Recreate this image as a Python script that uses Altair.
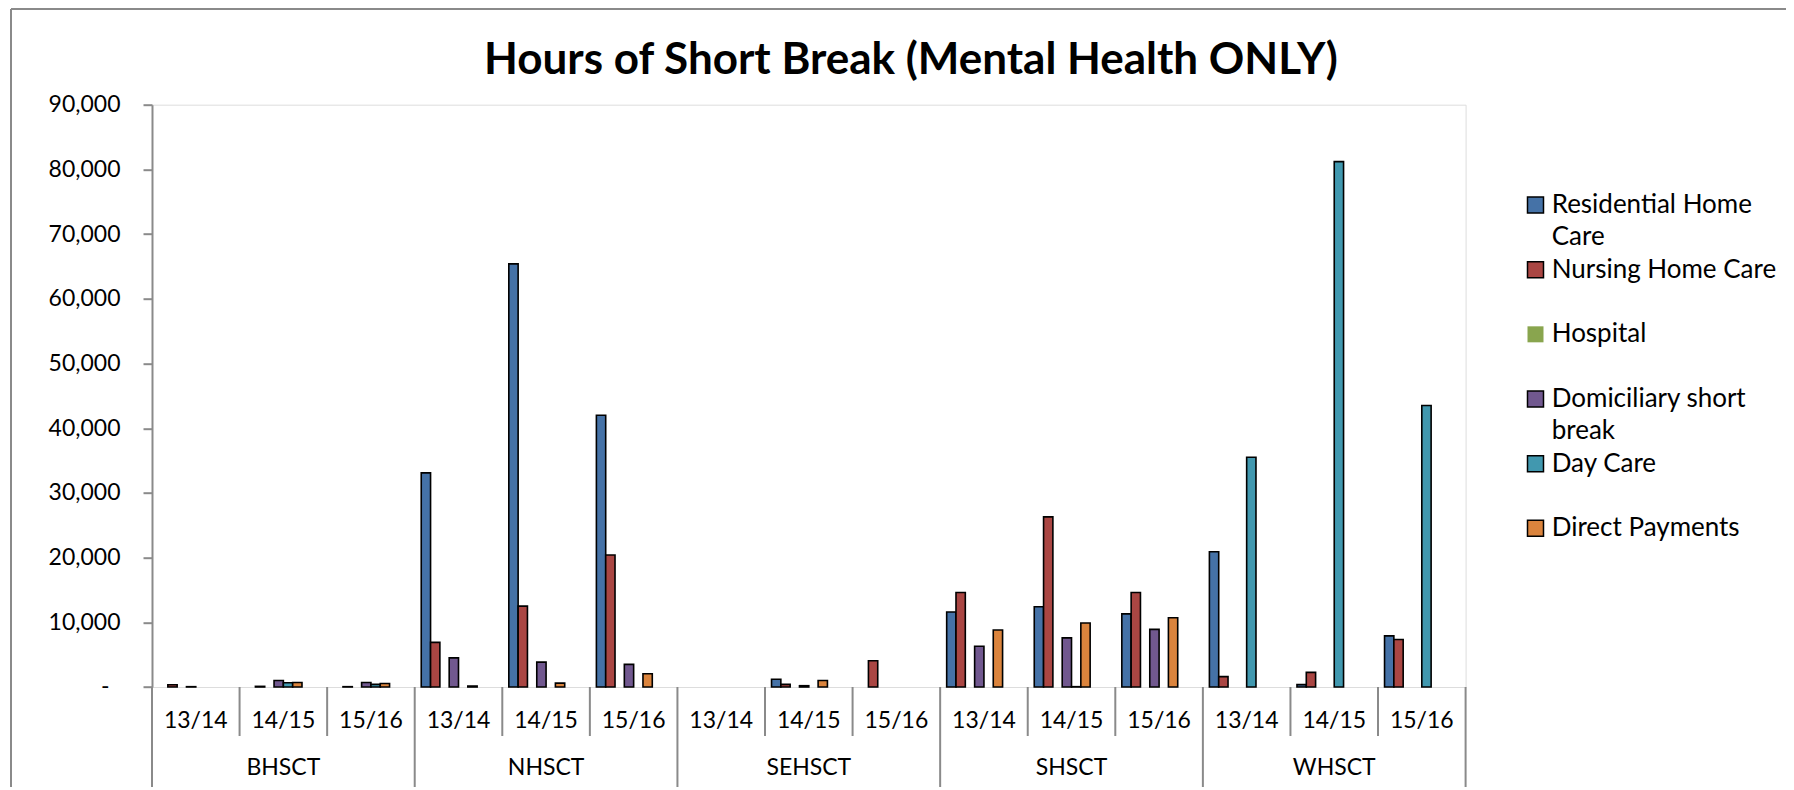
import altair as alt
import pandas as pd

# ---------------- data ----------------
trusts = ["BHSCT", "NHSCT", "SEHSCT", "SHSCT", "WHSCT"]
years = ["13/14", "14/15", "15/16"]
series = ["Residential Home Care", "Nursing Home Care", "Hospital",
          "Domiciliary short break", "Day Care", "Direct Payments"]
legend_labels = ["Residential Home\nCare", "Nursing Home Care", "Hospital",
                 "Domiciliary short\nbreak", "Day Care", "Direct Payments"]
colors = ["#4572A7", "#AA4643", "#89A54E", "#71588F", "#4198AF", "#DB843D"]

# values per slot: BHSCT(13/14,14/15,15/16), NHSCT(...), SEHSCT(...), SHSCT(...), WHSCT(...)
residential = [0, 0, 0, 33100, 65400, 42000, 0, 1200, 0, 11600, 12400, 11300, 20900, 370, 7900]
nursing = [350, 100, 50, 6900, 12500, 20400, 0, 400, 4050, 14600, 26300, 14600, 1600, 2260, 7350]
hospital = [0, 0, 0, 0, 0, 0, 0, 0, 0, 0, 0, 0, 0, 0, 0]
domiciliary = [50, 1000, 700, 4500, 3850, 3500, 0, 200, 0, 6300, 7600, 8900, 0, 0, 0]
day_care = [0, 650, 400, 0, 0, 0, 0, 0, 0, 0, 50, 0, 35500, 81200, 43500]
direct_payments = [0, 700, 550, 150, 600, 2050, 0, 1000, 0, 8800, 9900, 10700, 0, 0, 0]

y_ticks = [0, 10000, 20000, 30000, 40000, 50000, 60000, 70000, 80000, 90000]
title_text = "Hours of Short Break (Mental Health ONLY)"

# ---------------- tables ----------------
slots = [f"{t}|{y}" for t in trusts for y in years]
values = [residential, nursing, hospital, domiciliary, day_care, direct_payments]
rows = []
for s, vals in zip(series, values):
    for slot, v in zip(slots, vals):
        rows.append({"slot": slot, "series": s, "hours": v})
df = pd.DataFrame(rows)

slot_df = pd.DataFrame({"slot": slots,
                        "year": [y for t in trusts for y in years],
                        "kind": ["long" if sl.endswith(years[0]) else "short" for sl in slots]})
end_df = pd.DataFrame({"slot": [slots[-1]]})
groups_df = pd.DataFrame({"trust": trusts, "mid": [f"{t}|{years[1]}" for t in trusts]})
legend_df = pd.DataFrame({"series": series, "label": legend_labels})
title_df = pd.DataFrame({"t": [title_text]})
one_df = pd.DataFrame({"a": [0]})

offset_domain = series + ["(empty 1)", "(empty 2)"]

W = 1313.6
H = 582.3
FONT = "Lato"
GRAY = "#8a8a8a"

x_scale = alt.Scale(domain=slots, paddingInner=0, paddingOuter=0)
color_scale = alt.Scale(domain=series, range=colors)

bars = alt.Chart(df).transform_filter("datum.hours > 0").mark_bar(
    stroke="black", strokeWidth=1.6
).encode(
    x=alt.X("slot:N", scale=x_scale, title=None,
            axis=alt.Axis(labels=False, ticks=False, domainColor=GRAY, domainWidth=2, grid=False)),
    xOffset=alt.XOffset("series:N", scale=alt.Scale(domain=offset_domain, paddingInner=0, paddingOuter=0.7)),
    y=alt.Y("hours:Q", scale=alt.Scale(domain=[0, 90000], nice=False, zero=True), title=None,
            axis=alt.Axis(values=y_ticks,
                          labelExpr="datum.value == 0 ? '-' : format(datum.value, ',')",
                          labelPadding={"condition": {"test": "datum.value == 0", "value": 34},
                                        "value": 23},
                          grid=False, domainColor=GRAY, domainWidth=2, tickColor=GRAY, tickWidth=2,
                          tickSize=9, labelFont=FONT, labelFontSize=23,
                          labelColor="black")),
    color=alt.Color("series:N", scale=color_scale, legend=None),
)

year_text = alt.Chart(slot_df).mark_text(
    font=FONT, fontSize=23, baseline="middle", color="black"
).encode(x=alt.X("slot:N", axis=None, title=None), y=alt.value(H + 34), text="year:N")

short_rules = alt.Chart(slot_df).transform_filter("datum.kind == 'short'").mark_rule(
    color=GRAY, strokeWidth=2
).encode(x=alt.X("slot:N", bandPosition=0, axis=None, title=None),
         y=alt.value(H), y2=alt.value(H + 49))

long_rules = alt.Chart(slot_df).transform_filter("datum.kind == 'long'").mark_rule(
    color=GRAY, strokeWidth=2
).encode(x=alt.X("slot:N", bandPosition=0, axis=None, title=None),
         y=alt.value(H), y2=alt.value(H + 120))

end_rule = alt.Chart(end_df).mark_rule(color=GRAY, strokeWidth=2).encode(
    x=alt.X("slot:N", bandPosition=1, axis=None, title=None),
    y=alt.value(H), y2=alt.value(H + 120))

group_text = alt.Chart(groups_df).mark_text(
    font=FONT, fontSize=23, baseline="middle", color="black"
).encode(x=alt.X("mid:N", axis=None, title=None), y=alt.value(H + 81), text="trust:N")

legend_y = alt.Scale(domain=series, range=[100.3, 423.6], padding=0)
leg_sq = alt.Chart(legend_df).mark_square(size=256, filled=True, opacity=1, stroke="black",
                                          strokeWidth=1.5).encode(
    x=alt.value(1535.5 - 152),
    y=alt.Y("series:N", scale=legend_y, axis=None),
    color=alt.Color("series:N", scale=color_scale, legend=None),
    strokeOpacity=alt.condition("datum.series == 'Hospital'", alt.value(0), alt.value(1)),
)
leg_txt = alt.Chart(legend_df).mark_text(
    align="left", baseline="middle", font=FONT, fontSize=26, lineBreak="\n",
    lineHeight=31.7, color="black"
).encode(
    x=alt.value(1551.7 - 152),
    y=alt.Y("series:N", scale=legend_y, axis=None),
    text="label:N",
)

title = alt.Chart(title_df).mark_text(
    font=FONT, fontSize=44, fontWeight="bold", align="center", baseline="alphabetic", color="black"
).encode(x=alt.value(911 - 152), y=alt.value(74 - 104.7), text="t:N")

border_left = alt.Chart(one_df).mark_rule(color=GRAY, strokeWidth=2).encode(
    x=alt.value(11 - 152), y=alt.value(9 - 104.7), y2=alt.value(H + 130))
border_top = alt.Chart(one_df).mark_rule(color=GRAY, strokeWidth=2).encode(
    x=alt.value(11 - 152), x2=alt.value(W + 330), y=alt.value(9 - 104.7))

chart = alt.layer(
    bars, year_text, short_rules, long_rules, end_rule, group_text, leg_sq, leg_txt, title,
    border_left, border_top
).resolve_scale(y="independent").properties(
    width=W, height=H,
    autosize=alt.AutoSizeParams(type="none"),
    padding={"left": 144, "top": 96.7, "right": 320, "bottom": 100},
).configure_view(stroke=None).configure(background="white")

chart.save("out.html", embed_options={"renderer": "svg", "actions": False})
